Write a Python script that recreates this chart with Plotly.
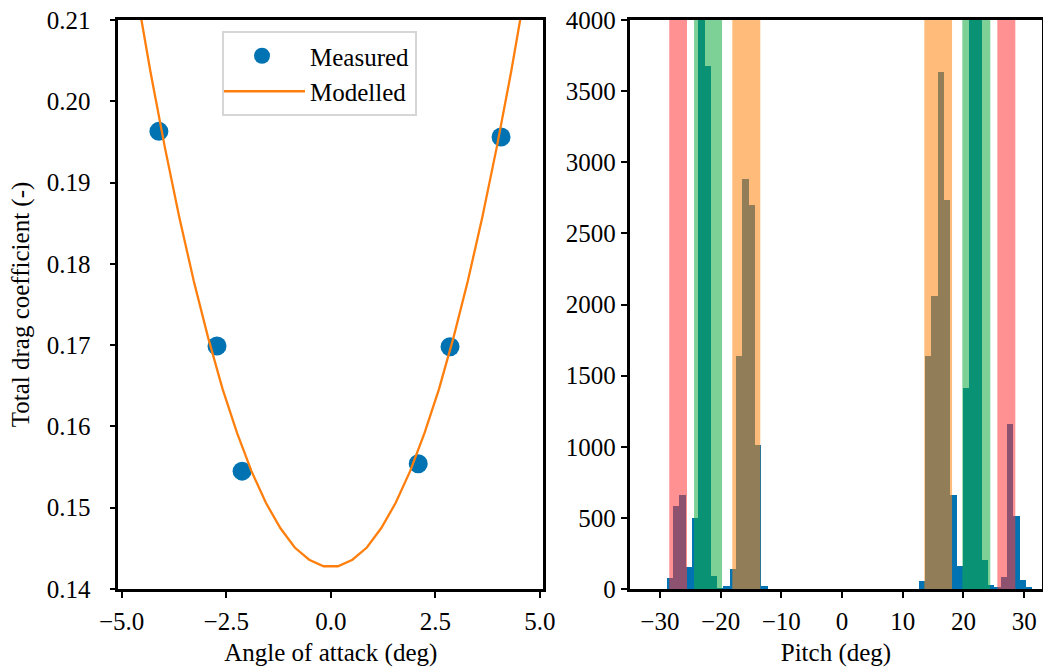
import numpy as np
import plotly.graph_objects as go

# ---------------- data ----------------
# Left panel: drag coefficient vs angle of attack
measured_aoa = [-4.11, -2.72, -2.12, 2.09, 2.85, 4.07]
measured_cd = [0.1963, 0.1699, 0.1545, 0.1554, 0.1698, 0.1956]

model_aoa = list(np.linspace(-5.0, 5.0, 30))
model_cd = [0.2247, 0.2138, 0.2036, 0.1943, 0.1857, 0.1779, 0.1709, 0.1646,
            0.1592, 0.1545, 0.1506, 0.1475, 0.1451, 0.1436, 0.1428,
            0.1428, 0.1436, 0.1451, 0.1475, 0.1506, 0.1545, 0.1592,
            0.1646, 0.1709, 0.1779, 0.1857, 0.1943, 0.2036, 0.2138, 0.2247]

# Right panel: pitch histogram (58 bins)
pitch_bin_start = -28.94
pitch_bin_width = 1.0375
pitch_counts = [80, 585, 660, 155, 500, 4800, 3680, 90, 5, 20,
                140, 1640, 2880, 2700, 1010, 20, 0, 0, 0, 0,
                0, 0, 0, 0, 0, 0, 0, 0, 0, 0,
                0, 0, 0, 0, 0, 0, 0, 0, 0, 0,
                56, 1640, 2060, 3635, 2735, 660, 164, 1410, 4800, 4800,
                204, 28, 10, 87, 1160, 513, 63, 16]

# shaded pitch bands
band_lo = [-28.45, -24.37, -18.07, 13.55, 19.81, 25.58]
band_hi = [-25.53, -19.76, -13.46, 18.12, 24.42, 28.54]
band_color = ["rgba(255,55,57,0.55)", "rgba(18,171,66,0.55)", "rgba(255,136,20,0.57)",
              "rgba(255,136,20,0.57)", "rgba(18,171,66,0.55)", "rgba(255,55,57,0.55)"]

left_xticks = [-5.0, -2.5, 0.0, 2.5, 5.0]
left_yticks = [0.14, 0.15, 0.16, 0.17, 0.18, 0.19, 0.20, 0.21]
right_xticks = [-30, -20, -10, 0, 10, 20, 30]
right_yticks = [0, 500, 1000, 1500, 2000, 2500, 3000, 3500, 4000]

# ---------------- style ----------------
W, H = 1043, 667
FONT = "Liberation Serif"
FS = 25
BLUE = "#0173B2"
ORANGE = "#FF7F0E"

centers = pitch_bin_start + pitch_bin_width * (np.arange(len(pitch_counts)) + 0.5)

fig = go.Figure()
fig.add_trace(go.Scatter(x=measured_aoa, y=measured_cd, mode="markers", name="Measured",
                         marker=dict(size=19, color=BLUE), xaxis="x", yaxis="y"))
fig.add_trace(go.Scatter(x=model_aoa, y=model_cd, mode="lines", name="Modelled",
                         line=dict(color=ORANGE, width=2.3), xaxis="x", yaxis="y"))
fig.add_trace(go.Bar(x=centers, y=pitch_counts, width=pitch_bin_width,
                     marker=dict(color=BLUE, line=dict(width=0)),
                     showlegend=False, xaxis="x2", yaxis="y2"))

for lo, hi, c in zip(band_lo, band_hi, band_color):
    fig.add_shape(type="rect", xref="x2", yref="y2 domain", x0=lo, x1=hi, y0=0, y1=1,
                  fillcolor=c, line=dict(width=0), layer="above")

axis_common = dict(showline=True, linecolor="black", linewidth=2.5, mirror=True,
                   ticks="outside", ticklen=6, tickwidth=2, tickcolor="black",
                   showgrid=False, zeroline=False, automargin=False,
                   tickfont=dict(family=FONT, size=FS, color="black"))

ybot = 1 - 589 / H
ytop = 1 - 20 / H
title_font = dict(family=FONT, size=FS, color="black")

fig.update_layout(
    width=W, height=H,
    margin=dict(l=0, r=0, t=0, b=0),
    paper_bgcolor="white", plot_bgcolor="white",
    bargap=0, showlegend=True,
    xaxis=dict(domain=[118.3 / W, 543.3 / W], range=[-5.08, 5.08],
               tickvals=left_xticks, tickformat=".1f", ticklabelstandoff=2,
               title=dict(text="Angle of attack (deg)", font=title_font, standoff=12),
               anchor="y", **axis_common),
    yaxis=dict(domain=[ybot, ytop], range=[0.14, 0.21],
               tickvals=left_yticks, tickformat=".2f", ticklabelstandoff=14,
               title=dict(text="Total drag coefficient (-)", font=title_font, standoff=11),
               anchor="x", **axis_common),
    xaxis2=dict(domain=[629.5 / W, 1042.4 / W], range=[-35, 33],
                tickvals=right_xticks, ticklabelstandoff=2,
                title=dict(text="Pitch (deg)", font=title_font, standoff=12),
                anchor="y2", **axis_common),
    yaxis2=dict(domain=[ybot, ytop], range=[0, 4000],
                tickvals=right_yticks,
                anchor="x2", **axis_common),
    legend=dict(x=222 / W, y=1 - 31 / H, xanchor="left", yanchor="top",
                bgcolor="rgba(255,255,255,0.8)", bordercolor="#d6d6d6", borderwidth=2,
                font=dict(family=FONT, size=FS, color="black"),
                itemwidth=86, indentation=-10, tracegroupgap=0),
)

fig.write_html("out.html")
